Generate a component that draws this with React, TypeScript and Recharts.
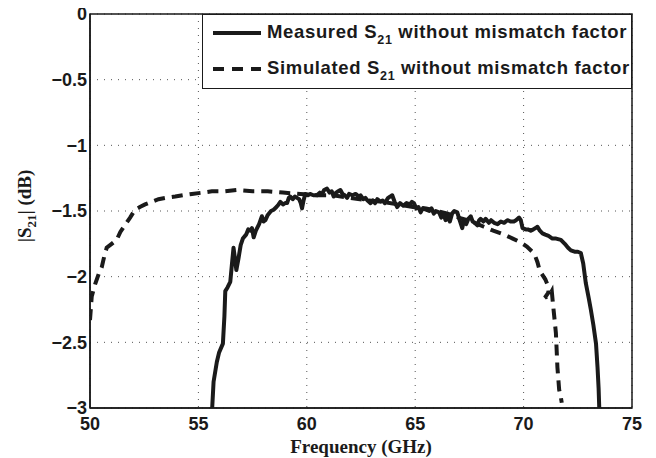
import { LineChart, Line, XAxis, YAxis, CartesianGrid, ReferenceArea, Label } from 'recharts';

const xTicks = [50, 55, 60, 65, 70, 75];
const yTicks = [-3, -2.5, -2, -1.5, -1, -0.5, 0];

const measuredFreq = [
  55.62, 55.7, 55.85, 55.95, 56.13, 56.2, 56.24, 56.35, 56.47, 56.55, 56.62, 56.7, 56.75, 56.85, 56.95,
  57.05, 57.2, 57.3, 57.39, 57.47, 57.55, 57.65, 57.8, 57.93, 58.0, 58.09, 58.2, 58.35, 58.47, 58.6,
  58.7, 58.78, 58.9, 59.0, 59.09, 59.17, 59.24, 59.35, 59.45, 59.55, 59.65, 59.72, 59.78, 59.85, 59.93,
  60.05, 60.15, 60.3, 60.47, 60.6, 60.7, 60.8, 60.93, 61.05, 61.15, 61.24, 61.35, 61.45, 61.55, 61.65,
  61.75, 61.86, 61.95, 62.1, 62.25, 62.4, 62.48, 62.6, 62.7, 62.8, 62.94, 63.05, 63.15, 63.25, 63.4,
  63.5, 63.6, 63.75, 63.85, 63.94, 64.05, 64.17, 64.3, 64.45, 64.6, 64.75, 64.85, 64.94, 65.05, 65.15,
  65.25, 65.35, 65.5, 65.65, 65.75, 65.86, 65.95, 66.1, 66.2, 66.3, 66.4, 66.48, 66.6, 66.7, 66.8,
  66.94, 67.05, 67.17, 67.25, 67.35, 67.45, 67.56, 67.65, 67.75, 67.87, 67.95, 68.02, 68.15, 68.25, 68.4,
  68.5, 68.64, 68.8, 68.95, 69.1, 69.25, 69.41, 69.55, 69.65, 69.79, 69.87, 69.95, 70.1, 70.2, 70.33,
  70.45, 70.55, 70.64, 70.75, 70.87, 71.0, 71.15, 71.33, 71.5, 71.72, 71.9, 72.05, 72.18, 72.35, 72.5,
  72.64, 72.75, 72.87, 73.0, 73.1, 73.22, 73.34, 73.41, 73.46, 73.5,
];
const measuredDb = [
  -3.05, -2.8, -2.65, -2.58, -2.51, -2.3, -2.11, -2.08, -2.04, -1.9, -1.78, -1.88, -1.95, -1.86, -1.76,
  -1.71, -1.68, -1.64, -1.65, -1.63, -1.7, -1.65, -1.6, -1.54, -1.58, -1.57, -1.53, -1.5, -1.49, -1.47,
  -1.45, -1.43, -1.45, -1.44, -1.44, -1.4, -1.39, -1.41, -1.39, -1.4, -1.41, -1.44, -1.48, -1.42, -1.37,
  -1.38, -1.37, -1.38, -1.38, -1.36, -1.37, -1.34, -1.33, -1.36, -1.35, -1.39, -1.36, -1.35, -1.34, -1.37,
  -1.38, -1.4, -1.37, -1.38, -1.37, -1.39, -1.38, -1.41, -1.4, -1.42, -1.44, -1.42, -1.44, -1.41, -1.43,
  -1.42, -1.44, -1.4, -1.39, -1.38, -1.43, -1.47, -1.44, -1.46, -1.44, -1.45, -1.43, -1.44, -1.48, -1.47,
  -1.51, -1.48, -1.49, -1.5, -1.48, -1.52, -1.5, -1.51, -1.55, -1.52, -1.57, -1.54, -1.58, -1.52, -1.5,
  -1.51, -1.57, -1.63, -1.57, -1.6, -1.56, -1.54, -1.58, -1.59, -1.61, -1.57, -1.56, -1.58, -1.56, -1.59,
  -1.57, -1.59, -1.6, -1.58, -1.59, -1.57, -1.58, -1.58, -1.57, -1.55, -1.57, -1.63, -1.64, -1.64, -1.65,
  -1.64, -1.63, -1.62, -1.65, -1.67, -1.68, -1.69, -1.71, -1.71, -1.72, -1.75, -1.78, -1.8, -1.81, -1.81,
  -1.82, -1.9, -2.05, -2.16, -2.25, -2.37, -2.51, -2.69, -2.85, -3.05,
];

const simulatedFreq = [
  50.0, 50.08, 50.25, 50.4, 50.54, 50.65, 50.77, 51.0, 51.23, 51.4, 51.6, 51.85, 52.08, 52.3, 52.54,
  52.85, 53.16, 53.5, 53.93, 54.3, 54.7, 55.2, 55.62, 56.2, 56.8, 57.5, 58.2, 58.9, 59.7, 60.5,
  61.2, 62.0, 62.8, 63.5, 64.2, 64.9, 65.5, 66.0, 66.5, 67.0, 67.6, 68.17, 68.6, 69.1, 69.5,
  69.87, 70.15, 70.4, 70.55, 70.64, 70.72, 70.8, 71.0, 71.1, 71.15, 70.98, 71.2, 71.3, 71.35, 71.4,
  71.49, 71.56, 71.64, 71.72, 71.76,
];
const simulatedDb = [
  -2.33, -2.15, -2.05, -1.98, -1.93, -1.85, -1.78, -1.75, -1.72, -1.66, -1.61, -1.55, -1.49, -1.47, -1.45,
  -1.43, -1.41, -1.4, -1.39, -1.38, -1.37, -1.36, -1.35, -1.35, -1.34, -1.35, -1.35, -1.36, -1.37, -1.38,
  -1.38, -1.4, -1.42, -1.43, -1.45, -1.47, -1.48, -1.5, -1.52, -1.55, -1.58, -1.62, -1.65, -1.68, -1.71,
  -1.74, -1.77, -1.81, -1.85, -1.89, -1.94, -1.97, -2.02, -2.06, -2.12, -2.16, -2.14, -2.11, -2.2, -2.28,
  -2.43, -2.69, -2.86, -2.92, -2.96,
];

const measured = measuredFreq.map((f, i) => ({ f, db: measuredDb[i] }));
const simulated = simulatedFreq.map((f, i) => ({ f, db: simulatedDb[i] }));

const INK = '#1a1a1a';
const sans = '"Liberation Sans", Arial, Helvetica, sans-serif';
const serif = '"Liberation Serif", "Times New Roman", serif';

const fmtY = (v: number) => (v === 0 ? '0' : String(v).replace('-', '\u2212'));

function YLabel(props: any) {
  const vb = props.viewBox || { x: 0, y: 6, width: 82, height: 394 };
  const cx = 23;
  const cy = vb.y + vb.height / 2 - 5;
  return (
    <text
      x={cx}
      y={cy}
      transform={`rotate(-90 ${cx} ${cy})`}
      textAnchor="middle"
      fontFamily={serif}
      fontWeight="bold"
      fontSize={19}
      fill={INK}
    >
      |S<tspan fontSize={13} dy={5}>21</tspan>
      <tspan dy={-5}>| (dB)</tspan>
    </text>
  );
}

function LegendBox() {
  const row = (label: string, dashed: boolean, top: number) => (
    <div style={{ position: 'absolute', left: 0, top, height: 30, width: '100%' }}>
      <svg width={60} height={30} style={{ position: 'absolute', left: 8, top: 0 }}>
        <line
          x1={2}
          x2={50}
          y1={15}
          y2={15}
          stroke={INK}
          strokeWidth={4}
          strokeDasharray={dashed ? '11 8' : undefined}
        />
      </svg>
      <div
        style={{
          position: 'absolute',
          left: 64,
          top: 3,
          whiteSpace: 'nowrap',
          fontFamily: sans,
          fontWeight: 'bold',
          fontSize: 18.5,
          letterSpacing: 0.65,
          color: INK,
          lineHeight: '22px',
        }}
      >
        {label} S<span style={{ fontSize: 12.5, position: 'relative', top: 6 }}>21</span> without mismatch factor
      </div>
    </div>
  );
  return (
    <div
      style={{
        position: 'absolute',
        left: 194,
        top: 6,
        width: 430,
        height: 75,
        boxSizing: 'border-box',
        border: `1.5px solid ${INK}`,
        background: '#fff',
      }}
    >
      {row('Measured', false, 3)}
      {row('Simulated', true, 39)}
    </div>
  );
}

export default function App() {
  return (
    <div style={{ position: 'relative', width: 648, height: 450, background: '#fff' }}>
      <LineChart width={648} height={450} margin={{ top: 6, right: 24, bottom: 0, left: 0 }}>
        <CartesianGrid stroke="#555" strokeDasharray="1 6" strokeWidth={1} />
        <XAxis
          dataKey="f"
          type="number"
          domain={[50, 75]}
          ticks={xTicks}
          interval={0}
          allowDataOverflow
          height={50}
          tickSize={0}
          tickMargin={9}
          axisLine={{ stroke: INK, strokeWidth: 1.5 }}
          tick={{ fontFamily: sans, fontWeight: 'bold', fontSize: 18, fill: INK }}
        >
          <Label
            value="Frequency (GHz)"
            position="insideBottom"
            offset={5}
            fontFamily={serif}
            fontWeight="bold"
            fontSize={19}
            fill={INK}
          />
        </XAxis>
        <YAxis
          type="number"
          domain={[-3, 0]}
          ticks={yTicks}
          interval={0}
          allowDataOverflow
          width={82}
          tickSize={0}
          tickMargin={3}
          tickFormatter={fmtY}
          axisLine={{ stroke: INK, strokeWidth: 1.5 }}
          tick={{ fontFamily: sans, fontWeight: 'bold', fontSize: 18, fill: INK }}
        >
          <Label content={<YLabel />} />
        </YAxis>
        <ReferenceArea x1={50} x2={75} y1={-3} y2={0} fill="none" stroke={INK} strokeWidth={1.5} ifOverflow="visible" />
        <Line
          data={simulated}
          dataKey="db"
          type="linear"
          stroke={INK}
          strokeWidth={4}
          strokeDasharray="11 7"
          dot={false}
          activeDot={false}
          isAnimationActive={false}
        />
        <Line
          data={measured}
          dataKey="db"
          type="linear"
          stroke={INK}
          strokeWidth={4}
          strokeLinejoin="round"
          dot={false}
          activeDot={false}
          isAnimationActive={false}
        />
      </LineChart>
      <LegendBox />
    </div>
  );
}
